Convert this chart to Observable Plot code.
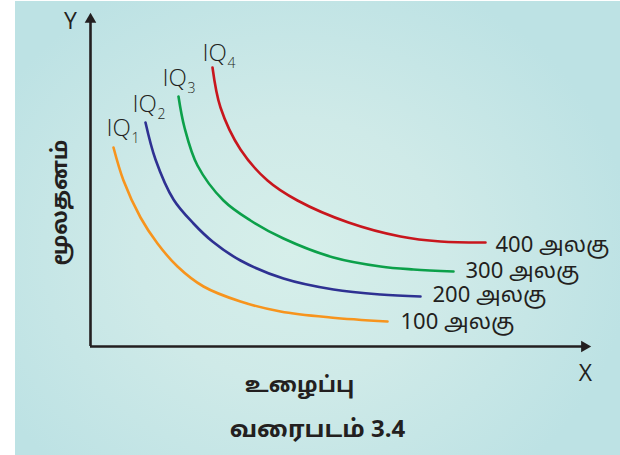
<!DOCTYPE html>
<html>
<head>
<meta charset="utf-8">
<script src="https://cdn.jsdelivr.net/npm/d3@7"></script>
<script src="https://cdn.jsdelivr.net/npm/@observablehq/plot@0.6"></script>
<style>
  html, body { margin: 0; padding: 0; background: #ffffff; }
  #chart {
    width: 620px; height: 455px;
    background:
      linear-gradient(to right, #ffffff 15px, transparent 15px),
      linear-gradient(to bottom, #ffffff 1px, transparent 1px),
      radial-gradient(ellipse 55% 65% at 47% 55%, #d6efea 0%, #cfeae8 45%, #bde2e4 100%);
  }
  #chart svg { display: block; }
</style>
</head>
<body>
<div id="chart"></div>
<script>
// ---- data (units: labour on x, capital on y, arbitrary) ----
const curveNames = ["IQ1", "IQ2", "IQ3", "IQ4"];
const curveColors = ["#f7941d", "#2e3192", "#0ca04a", "#c8161d"];
const outputLabels = ["100 அலகு", "200 அலகு", "300 அலகு", "400 அலகு"];
const subscripts = ["1", "2", "3", "4"];

const iq1X = [23, 33, 50, 67, 87, 113, 150, 190, 240, 297];
const iq1Y = [199, 166, 129, 103, 80, 60, 45, 35, 29, 25];
const iq2X = [55, 65, 83, 103, 122, 150, 193, 243, 290, 330];
const iq2Y = [224, 187, 147, 123, 105, 86, 68, 57, 52, 50];
const iq3X = [88, 94, 107, 133, 160, 193, 243, 290, 323, 363];
const iq3Y = [250, 219, 181, 146, 126, 108, 89, 80, 77, 75];
const iq4X = [122, 130, 150, 177, 207, 258, 310, 350, 395];
const iq4Y = [279, 239, 197, 166, 146, 124, 110, 105, 104];

// label anchor positions (curve name at top, output at right end)
const nameX = [16, 42, 72, 112];
const nameY = [211, 235, 261, 286];
const outX = [310, 342, 375, 405];
const outY = [18, 45, 69, 95];

const axisEnds = {xMax: 494, yMax: 327};
const xTitle = "உழைப்பு";
const yTitle = "மூலதனம்";
const figTitle = "வரைபடம் 3.4";

// ---- build tables ----
const xs = [iq1X, iq2X, iq3X, iq4X];
const ys = [iq1Y, iq2Y, iq3Y, iq4Y];
const pts = [];
xs.forEach((arr, i) => arr.forEach((x, j) => pts.push({curve: curveNames[i], x, y: ys[i][j]})));
const names = curveNames.map((c, i) => ({curve: c, x: nameX[i], y: nameY[i], sub: subscripts[i], out: outputLabels[i], ox: outX[i], oy: outY[i]}));

const tamilFont = "'Noto Sans Tamil', 'Lohit Tamil', 'Latha', 'Noto Sans', 'DejaVu Sans', sans-serif";
const latinFont = "'Open Sans', 'Noto Sans', sans-serif";

const plot = Plot.plot({
  width: 620,
  height: 455,
  marginLeft: 90,
  marginRight: 30,
  marginTop: 15,
  marginBottom: 109,
  x: {domain: [0, 500], axis: null},
  y: {domain: [0, 331], axis: null},
  color: {domain: curveNames, range: curveColors},
  style: {background: "transparent", overflow: "visible"},
  marks: [
    // axes
    Plot.ruleX([0], {y1: 0, y2: axisEnds.yMax, stroke: "#231f20", strokeWidth: 2.6}),
    Plot.ruleY([0], {x1: 0, x2: axisEnds.xMax, stroke: "#231f20", strokeWidth: 2.6}),
    Plot.dot([{x: 0, y: axisEnds.yMax}], {x: "x", y: "y", symbol: "triangle", r: 4.3, fill: "#231f20", stroke: "none"}),
    Plot.dot([{x: axisEnds.xMax, y: 0}], {x: "x", y: "y", symbol: "triangle", r: 4.3, fill: "#231f20", stroke: "none", rotate: 90}),
    Plot.text(["Y"], {x: () => -20, y: () => 318, text: d => d, fontSize: 23, fill: "#231f20", fontFamily: latinFont, textAnchor: "middle", lineAnchor: "bottom"}),
    Plot.text(["X"], {x: () => 495, y: () => -34, text: d => d, fontSize: 23, fill: "#231f20", fontFamily: latinFont, textAnchor: "middle", lineAnchor: "bottom"}),
    // curves
    Plot.line(pts, {x: "x", y: "y", z: "curve", stroke: "curve", strokeWidth: 2.6, curve: "catmull-rom"}),
    // curve names with subscripts
    Plot.text(names, {x: "x", y: "y", text: () => "IQ", fontSize: 24, fill: "#231f20", fontFamily: latinFont, fontWeight: 300, textAnchor: "start", lineAnchor: "bottom"}),
    Plot.text(names, {x: "x", y: "y", text: "sub", dx: 25, dy: 7, fontSize: 14, fill: "#231f20", fontFamily: latinFont, fontWeight: 300, textAnchor: "start", lineAnchor: "bottom"}),
    // output labels
    Plot.text(names, {x: "ox", y: "oy", text: "out", fontSize: 22, fill: "#231f20", fontFamily: tamilFont, textAnchor: "start", lineAnchor: "bottom"}),
    // axis titles and figure title
    Plot.text([yTitle], {x: () => -31, y: () => 144, text: d => d, rotate: -90, fontSize: 22, fontWeight: "bold", fill: "#231f20", fontFamily: tamilFont, textAnchor: "middle", lineAnchor: "middle"}),
    Plot.text([xTitle], {x: () => 209, y: () => -45, text: d => d, fontSize: 22, fontWeight: "bold", fill: "#231f20", fontFamily: tamilFont, textAnchor: "middle", lineAnchor: "bottom"}),
    Plot.text([figTitle], {x: () => 227, y: () => -90, text: d => d, fontSize: 24, fontWeight: "bold", fill: "#231f20", fontFamily: tamilFont, textAnchor: "middle", lineAnchor: "bottom"})
  ]
});
document.getElementById("chart").appendChild(plot);
</script>
</body>
</html>
